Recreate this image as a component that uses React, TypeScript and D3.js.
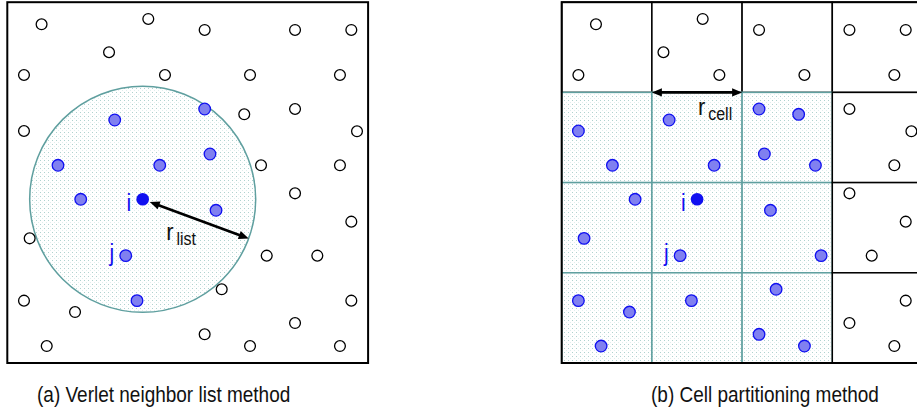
import React from "react";
import * as d3 from "d3";

// Simulation box is CELLS x CELLS cells; particle coordinates are in cell units.
const CELLS = 4;

const particleX = [
  0.38, 1.563, 2.188, 3.19, 3.814, 1.128, 0.185, 1.748, 2.691, 3.688,
  2.627, 3.19, 0.185, 3.877, 2.813, 3.688, 3.19, 3.814, 0.248, 2.876,
  3.437, 2.377, 0.185, 3.814, 0.751, 3.19, 2.188, 0.437, 2.691, 3.688,
  2.188, 1.191, 2.247, 0.562, 1.69, 0.814, 2.314, 1.438,
];
const particleY = [
  0.245, 0.186, 0.308, 0.308, 0.308, 0.555, 0.807, 0.807, 0.807, 0.807,
  1.243, 1.184, 1.428, 1.431, 1.808, 1.808, 2.119, 2.433, 2.618, 2.81,
  2.81, 3.183, 3.309, 3.309, 3.435, 3.557, 3.682, 3.812, 3.812, 3.812,
  1.184, 1.306, 1.683, 1.808, 1.808, 2.185, 2.307, 3.309,
];

// Labelled particles: i (the particle whose neighbours are sought) and j.
const tagNames = ["i", "j"];
const tagX = [1.501, 1.313];
const tagY = [2.185, 2.81];

const listRadius = 1.253; // r_list, cell units
const arrowAngleDeg = 20.3;
const captions = ["(a) Verlet neighbor list method", "(b) Cell partitioning method"];

const FONT = "'Liberation Sans', Arial, Helvetica, sans-serif";
const TEAL = "#5f9f9f";
const BLUE = "#1010f0";
const BLUE_FILL = "#8080f0";

function arrowParts(x1: number, y1: number, x2: number, y2: number, both: boolean, key: string) {
  const len = 10;
  const half = 4.2;
  const dx = x2 - x1;
  const dy = y2 - y1;
  const d = Math.hypot(dx, dy);
  const ux = dx / d;
  const uy = dy / d;
  const px = -uy;
  const py = ux;
  const head = (tx: number, ty: number, sx: number, sy: number) =>
    `M${tx},${ty}L${tx - sx * len + px * half},${ty - sy * len + py * half}L${tx - sx * len - px * half},${ty - sy * len - py * half}Z`;
  const sx1 = both ? x1 + ux * (len - 2) : x1;
  const sy1 = both ? y1 + uy * (len - 2) : y1;
  return (
    <g key={key}>
      <line
        x1={sx1}
        y1={sy1}
        x2={x2 - ux * (len - 2)}
        y2={y2 - uy * (len - 2)}
        stroke="#000"
        strokeWidth={2.6}
      />
      <path d={head(x2, y2, ux, uy)} fill="#000" />
      {both && <path d={head(x1, y1, -ux, -uy)} fill="#000" />}
    </g>
  );
}

function Particle({ cx, cy, state }: { cx: number; cy: number; state: string }) {
  if (state === "center") return <circle cx={cx} cy={cy} r={6.3} fill={BLUE} />;
  if (state === "near")
    return <circle cx={cx} cy={cy} r={5.8} fill={BLUE_FILL} stroke={BLUE} strokeWidth={1.3} />;
  return <circle cx={cx} cy={cy} r={5.4} fill="#fff" stroke="#000" strokeWidth={1.3} />;
}

// Text stretched slightly upward from its baseline
function Tall({ x, y, size, children, fill = "#111", anchor = "start" }: any) {
  return (
    <g transform={`translate(${x},${y}) scale(1,1.12)`}>
      <text x={0} y={0} fontFamily={FONT} fontSize={size} fill={fill} textAnchor={anchor}>
        {children}
      </text>
    </g>
  );
}

export default function App() {
  const W = 917;
  const H = 415;
  const y = d3.scaleLinear().domain([0, CELLS]).range([2.2, 363]);
  const xA = d3.scaleLinear().domain([0, CELLS]).range([7.3, 368.1]);
  const xB = d3.scaleLinear().domain([0, CELLS]).range([561.7, 922.5]);

  const ci = { x: tagX[0], y: tagY[0] };
  const points = d3.range(particleX.length).map((k) => ({ x: particleX[k], y: particleY[k] }));
  const all = [...points, { x: tagX[1], y: tagY[1] }];

  // Panel (a): neighbours inside the list radius
  const inList = (p: { x: number; y: number }) => Math.hypot(p.x - ci.x, p.y - ci.y) < listRadius;

  // Panel (b): 3x3 block of cells around the cell holding i
  const col0 = Math.floor(ci.x) - 1;
  const row0 = Math.floor(ci.y) - 1;
  const inBlockCell = (c: number, r: number) => c >= col0 && c <= col0 + 2 && r >= row0 && r <= row0 + 2;
  const inBlock = (p: { x: number; y: number }) => inBlockCell(Math.floor(p.x), Math.floor(p.y));

  const cells = d3.cross(d3.range(CELLS), d3.range(CELLS)).map(([c, r]) => ({ c, r, block: inBlockCell(c, r) }));
  const order = (d: { c: number; r: number; block: boolean }) => (d.block ? 1 : d.r < row0 ? 0 : 2);
  const cellsSorted = [...cells].sort((a, b) => order(a) - order(b));
  const cellPx = xA(1) - xA(0);

  // Arrow for r_list
  const ang = (arrowAngleDeg * Math.PI) / 180;
  const aStart = { x: xA(ci.x) + Math.cos(ang) * 7.5, y: y(ci.y) + Math.sin(ang) * 7.5 };
  const rPx = listRadius * cellPx;
  const aEnd = { x: xA(ci.x) + Math.cos(ang) * rPx, y: y(ci.y) + Math.sin(ang) * rPx };

  const labelFor = (xs: d3.ScaleLinear<number, number>) => (
    <g>
      <Tall x={xs(tagX[0]) - 11.5} y={y(tagY[0]) + 11.5} size={21} fill={BLUE} anchor="end">
        {tagNames[0]}
      </Tall>
      <Tall x={xs(tagX[1]) - 11.5} y={y(tagY[1]) + 5.8} size={21} fill={BLUE} anchor="end">
        {tagNames[1]}
      </Tall>
    </g>
  );

  return (
    <div style={{ position: "absolute", left: 0, top: 0 }}>
      <svg width={W} height={H} viewBox={`0 0 ${W} ${H}`} style={{ display: "block", background: "#fff" }}>
        <defs>
          <pattern id="dots" width={4} height={4} patternUnits="userSpaceOnUse">
            <rect width={4} height={4} fill="#fff" />
            <rect x={0} y={0} width={1} height={1} fill="#b0d2cf" />
            <rect x={2} y={2} width={1} height={1} fill="#e0eeed" />
          </pattern>
        </defs>

        {/* (a) Verlet neighbour list */}
        <g>
          <rect x={xA(0)} y={y(0)} width={xA(CELLS) - xA(0)} height={y(CELLS) - y(0)} fill="#fff" />
          <circle cx={xA(ci.x)} cy={y(ci.y)} r={rPx} fill="url(#dots)" stroke={TEAL} strokeWidth={1.5} />
          {all.map((p, k) => (
            <Particle key={k} cx={xA(p.x)} cy={y(p.y)} state={inList(p) ? "near" : "far"} />
          ))}
          <Particle cx={xA(ci.x)} cy={y(ci.y)} state="center" />
          {labelFor(xA)}
          {arrowParts(aStart.x, aStart.y, aEnd.x, aEnd.y, true, "ra")}
          <Tall x={xA(ci.x) + 23.5} y={y(ci.y) + 41} size={22}>
            r
            <tspan dx={3} dy={4.5} fontSize={16}>
              list
            </tspan>
          </Tall>
          <rect
            x={xA(0)}
            y={y(0)}
            width={xA(CELLS) - xA(0)}
            height={y(CELLS) - y(0)}
            fill="none"
            stroke="#000"
            strokeWidth={2}
          />
        </g>

        {/* (b) Cell partitioning */}
        <g>
          {cellsSorted.map((d) => (
            <rect
              key={`${d.c}-${d.r}`}
              x={xB(d.c)}
              y={y(d.r)}
              width={cellPx}
              height={y(d.r + 1) - y(d.r)}
              fill={d.block ? "url(#dots)" : "#fff"}
              stroke={d.block ? TEAL : "#000"}
              strokeWidth={1.5}
            />
          ))}
          <rect
            x={xB(0)}
            y={y(0)}
            width={xB(CELLS) - xB(0)}
            height={y(CELLS) - y(0)}
            fill="none"
            stroke="#000"
            strokeWidth={2}
          />
          {all.map((p, k) => (
            <Particle key={k} cx={xB(p.x)} cy={y(p.y)} state={inBlock(p) ? "near" : "far"} />
          ))}
          <Particle cx={xB(ci.x)} cy={y(ci.y)} state="center" />
          {labelFor(xB)}
          {arrowParts(xB(col0 + 1), y(row0), xB(col0 + 2), y(row0), true, "rc")}
          <Tall x={xB(col0 + 1) + 46} y={y(row0) + 23} size={22}>
            r
            <tspan dx={3} dy={4.5} fontSize={16}>
              cell
            </tspan>
          </Tall>
        </g>

        <Tall x={37} y={402} size={19}>
          {captions[0]}
        </Tall>
        <Tall x={651} y={402} size={19}>
          {captions[1]}
        </Tall>
      </svg>
    </div>
  );
}
